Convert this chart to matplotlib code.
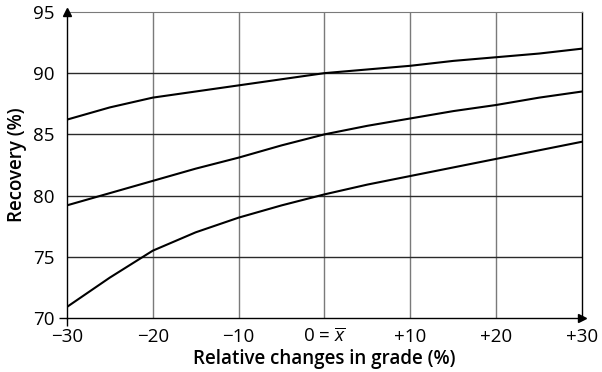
import numpy as np
import matplotlib.pyplot as plt

# values
grade = [-30, -25, -20, -15, -10, -5, 0, 5, 10, 15, 20, 25, 30]
rec_high = [86.2, 87.2, 88.0, 88.5, 89.0, 89.5, 90.0, 90.3, 90.6, 91.0, 91.3, 91.6, 92.0]
rec_mid = [79.2, 80.2, 81.2, 82.2, 83.1, 84.1, 85.0, 85.7, 86.3, 86.9, 87.4, 88.0, 88.5]
rec_low = [70.9, 73.3, 75.5, 77.0, 78.2, 79.2, 80.1, 80.9, 81.6, 82.3, 83.0, 83.7, 84.4]

x_ticks = [-30, -20, -10, 0, 10, 20, 30]
x_labels = ['\u221230', '\u221220', '\u221210', r'0 = $\overline{x}$', '+10', '+20', '+30']
y_ticks = [70, 75, 80, 85, 90, 95]

plt.rcParams['font.family'] = ['Open Sans', 'DejaVu Sans']
plt.rcParams['mathtext.fontset'] = 'custom'
plt.rcParams['mathtext.it'] = 'Open Sans:italic'
plt.rcParams['mathtext.rm'] = 'Open Sans'

fig = plt.figure(figsize=(6.02, 3.72), dpi=100)
ax = fig.add_axes([0.111, 0.145, 0.856, 0.823])

for xv in x_ticks[1:-1]:
    ax.axvline(xv, color='#7a7a7a', lw=1.0, zorder=1)
for yv in y_ticks[1:-1]:
    ax.axhline(yv, color='#2a2a2a', lw=1.0, zorder=1)

for ys in (rec_high, rec_mid, rec_low):
    ax.plot(grade, ys, color='black', lw=1.5, zorder=3)

ax.set_xlim(-30, 30)
ax.set_ylim(70, 95)
ax.set_xticks(x_ticks)
ax.set_xticklabels(x_labels)
ax.set_yticks(y_ticks)
ax.tick_params(axis='both', labelsize=13.5, length=6, width=1.0, color='black')
ax.tick_params(axis='x', pad=1)
ax.tick_params(axis='y', pad=3)

# only the origin carries a tick mark
for t in ax.xaxis.get_major_ticks()[1:]:
    t.tick1line.set_visible(False)
for t in ax.yaxis.get_major_ticks()[1:]:
    t.tick1line.set_visible(False)

for s in ('left', 'bottom', 'right'):
    ax.spines[s].set_color('black')
    ax.spines[s].set_linewidth(1.0)
ax.spines['top'].set_color('#7a7a7a')

# axis arrows
ax.plot(0, 1, '^', color='black', ms=6, transform=ax.transAxes, clip_on=False, zorder=5)
ax.plot(1, 0, '>', color='black', ms=6, transform=ax.transAxes, clip_on=False, zorder=5)

ax.set_xlabel('Relative changes in grade (%)', fontsize=13.5, fontweight='semibold', labelpad=2)
ax.set_ylabel('Recovery (%)', fontsize=13.5, fontweight='semibold', labelpad=4)

fig.savefig('out.png', dpi=100)
